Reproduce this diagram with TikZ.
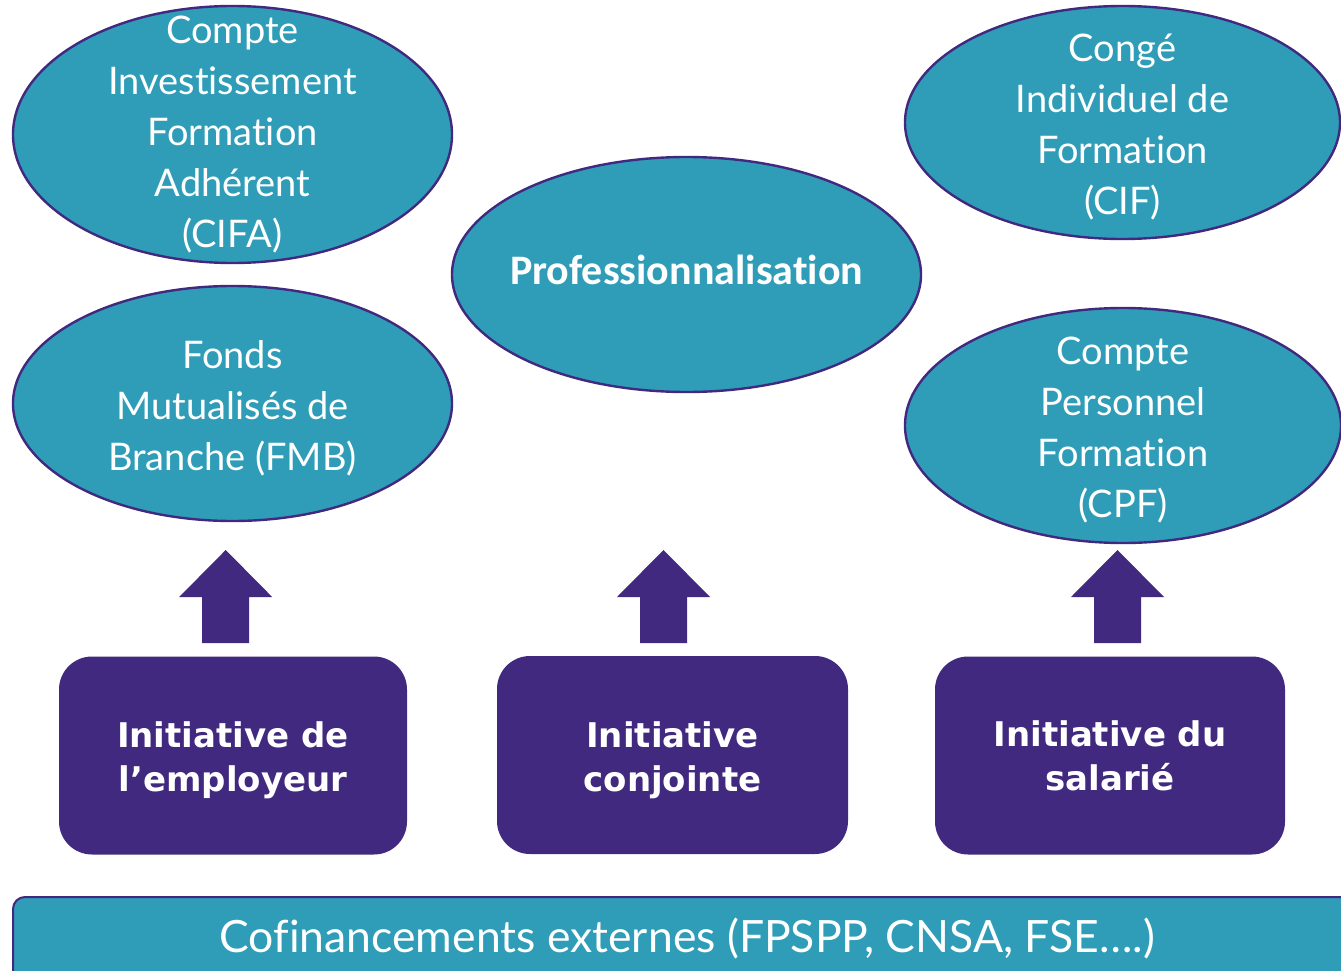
\documentclass[tikz,border=0pt]{standalone}
\usepackage{fontspec}
\setmainfont{Lato}[Ligatures=NoCommon]
\newfontfamily\initfont{DejaVu Sans}
\newfontfamily\profont{Carlito}[Ligatures=NoCommon]
\usetikzlibrary{positioning,shapes.geometric}
\definecolor{bubblefill}{RGB}{47,157,184}
\definecolor{inkpurple}{RGB}{64,41,126}
\tikzset{
    bubble/.style={
           ellipse,
           draw=inkpurple, line width=2.4pt,
           fill=bubblefill,
           text=white,
           inner sep=-4cm,      % text may run over the outline
           align=center,
           font=\fontsize{38}{51}\selectfont,
           },
    initiative/.style={
           rectangle,
           rounded corners=33pt,
           fill=inkpurple,
           text=white,
           minimum width=348pt,
           minimum height=198pt,
           align=center,
           font=\initfont\bfseries\fontsize{34}{44}\selectfont,
           },
    blockarrow/.style={fill=inkpurple},
}
% taller first line pushes the text down a little
\newcommand{\lift}[1]{\rule{0pt}{#1}}

\begin{document}
\begin{tikzpicture}[x=1pt,y=-1pt]
 \useasboundingbox (0,0) rectangle (1341,971);

 % the financing schemes
 \node[bubble, minimum width=439pt, minimum height=257pt] (CIFA) at (232.5,134.5)
 {Compte\\Investissement\\Formation\\Adhérent\\(CIFA)};

 \node[bubble, minimum width=439pt, minimum height=235pt] (FMB) at (232.5,403.5)
 {\lift{38pt}Fonds\\Mutualisés de\\Branche (FMB)};

 \node[bubble, minimum width=469pt, minimum height=235pt, text depth=10pt,
 font=\profont\bfseries\fontsize{42}{50}\selectfont] (PRO) at (686.5,274.5)
 {Professionnalisation};

 \node[bubble, minimum width=435pt, minimum height=233pt] (CIF) at (1122.5,122.5)
 {\lift{37pt}Congé\\Individuel de\\Formation\\(CIF)};

 \node[bubble, minimum width=436pt, minimum height=235pt] (CPF) at (1123,425.5)
 {\lift{36pt}Compte\\Personnel\\Formation\\(CPF)};

 % who takes the initiative
 \node[initiative] (EMP) at (233,755.5) {\lift{36pt}Initiative de\\l’employeur};
 \node[initiative, minimum width=351pt] (CONJ) at (672.5,755)
 {\lift{36pt}Initiative\\conjointe};
 \node[initiative, minimum width=350pt] (SAL) at (1110,755.5) {Initiative du\\salarié};

 % block arrows up to the schemes
 \foreach \x in {225.7,663.5,1117.5}
  \fill[blockarrow] (\x-23.5,643) -- (\x+23.5,643) -- (\x+23.5,597)
   -- (\x+46.5,597) -- (\x,550) -- (\x-46.5,597) -- (\x-23.5,597) -- cycle;

 % bottom band
 \filldraw[fill=bubblefill, draw=inkpurple, line width=2pt, rounded corners=12pt]
  (13,897) rectangle (1390,1020);
 \node[text=white, font=\fontsize{44.5}{50}\selectfont] (COFI) at (687,938)
 {Cofinancements externes (FPSPP, CNSA, FSE….)};
\end{tikzpicture}
\end{document}
